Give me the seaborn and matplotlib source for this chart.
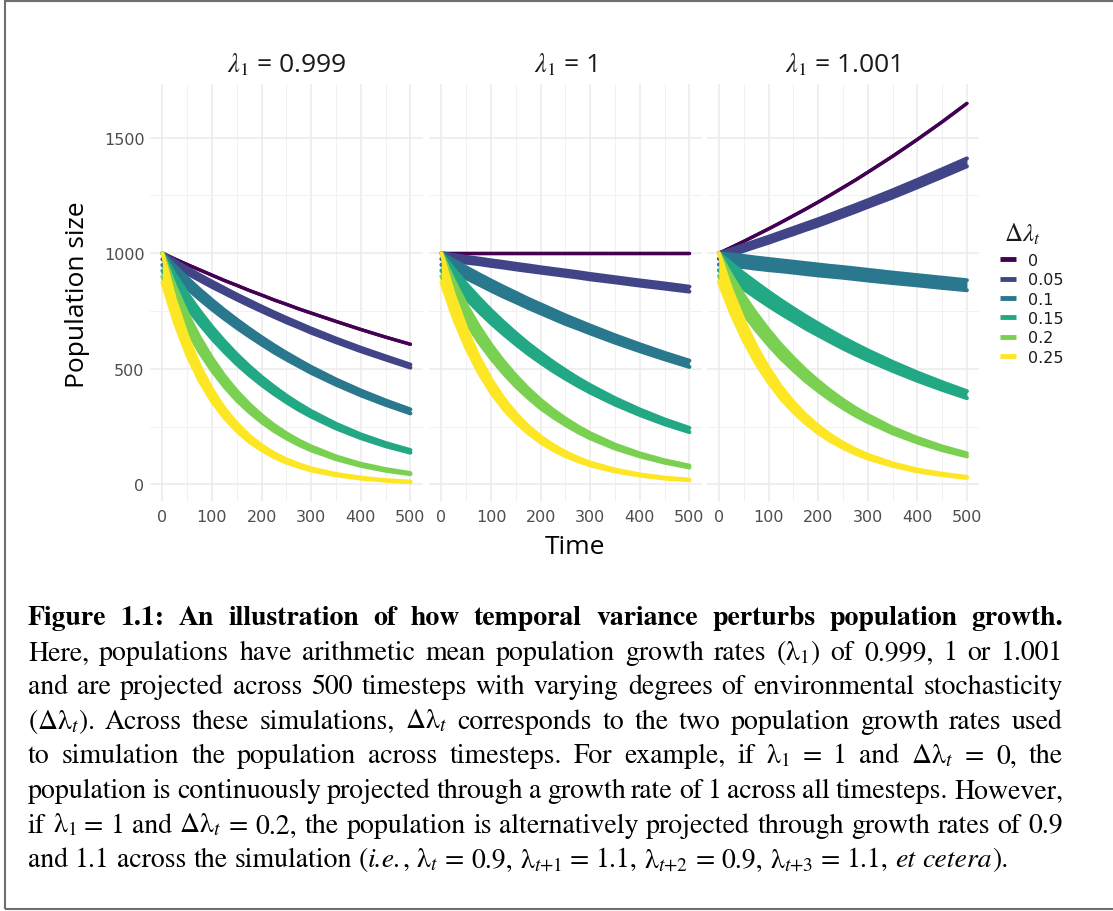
import numpy as np
import pandas as pd
import matplotlib
matplotlib.use("Agg")
import matplotlib.pyplot as plt
import seaborn as sns
from matplotlib.lines import Line2D
from matplotlib.patches import Rectangle

# ---------------- data ----------------
time_pts = [0, 25, 50, 75, 100, 125, 150, 175, 200, 225, 250, 275, 300, 350, 400, 450, 500]
lambda_labels = ["0.999", "1", "1.001"]
delta_levels = ["0", "0.05", "0.1", "0.15", "0.2", "0.25"]
delta_colors = ["#440154", "#414487", "#2A788E", "#22A884", "#7AD151", "#FDE725"]

# upper / lower edge of each alternating-growth band
upper_0999 = [
    [1000, 975, 951, 928, 905, 882, 861, 839, 819, 798, 779, 759, 741, 705, 670, 637, 606],
    [1000, 968, 936, 906, 877, 849, 821, 795, 769, 744, 720, 697, 674, 631, 591, 554, 518],
    [1000, 945, 893, 844, 798, 754, 713, 674, 637, 602, 569, 538, 508, 454, 406, 363, 324],
    [1000, 909, 826, 751, 682, 620, 563, 512, 465, 423, 384, 349, 317, 262, 216, 179, 148],
    [1000, 860, 740, 636, 547, 470, 404, 348, 299, 257, 221, 190, 164, 121, 89, 66, 49],
    [1000, 801, 641, 513, 411, 329, 264, 211, 169, 135, 108, 87, 69, 45, 29, 18, 12],
]
lower_0999 = [
    [1000, 975, 951, 928, 905, 882, 861, 839, 819, 798, 779, 759, 741, 705, 670, 637, 606],
    [974, 943, 912, 883, 854, 827, 800, 774, 749, 725, 701, 679, 656, 615, 576, 540, 505],
    [949, 897, 847, 801, 757, 716, 677, 640, 605, 571, 540, 511, 482, 431, 385, 344, 307],
    [924, 840, 763, 694, 630, 573, 520, 473, 430, 391, 355, 322, 293, 242, 200, 165, 137],
    [899, 773, 665, 572, 492, 423, 363, 313, 269, 231, 199, 171, 147, 109, 80, 59, 44],
    [874, 700, 560, 448, 359, 288, 231, 184, 148, 118, 94, 76, 60, 39, 25, 16, 10],
]
upper_1 = [
    [1000, 1000, 1000, 1000, 1000, 1000, 1000, 1000, 1000, 1000, 1000, 1000, 1000, 1000, 1000, 1000, 1000],
    [1000, 992, 984, 977, 969, 962, 954, 947, 939, 932, 925, 918, 910, 896, 882, 869, 855],
    [1000, 969, 939, 910, 882, 855, 829, 803, 779, 755, 731, 709, 687, 645, 606, 569, 535],
    [1000, 932, 868, 809, 754, 703, 655, 610, 569, 530, 494, 460, 429, 373, 324, 281, 244],
    [1000, 882, 778, 686, 605, 534, 471, 415, 366, 323, 285, 251, 221, 172, 134, 104, 81],
    [1000, 821, 675, 554, 455, 374, 307, 252, 207, 170, 140, 115, 94, 64, 43, 29, 20],
]
lower_1 = [
    [1000, 1000, 1000, 1000, 1000, 1000, 1000, 1000, 1000, 1000, 1000, 1000, 1000, 1000, 1000, 1000, 1000],
    [975, 967, 959, 953, 945, 938, 930, 923, 916, 909, 902, 895, 887, 874, 860, 847, 834],
    [950, 921, 892, 865, 838, 812, 788, 763, 740, 717, 694, 674, 653, 613, 576, 541, 508],
    [925, 862, 803, 748, 697, 650, 606, 564, 526, 490, 457, 426, 397, 345, 300, 260, 226],
    [900, 794, 700, 617, 545, 481, 424, 374, 329, 291, 257, 226, 199, 155, 121, 94, 73],
    [875, 718, 591, 485, 398, 327, 269, 221, 181, 149, 122, 101, 82, 56, 38, 25, 18],
]
upper_1001 = [
    [1000, 1025, 1051, 1078, 1105, 1133, 1162, 1191, 1221, 1252, 1284, 1316, 1350, 1419, 1492, 1568, 1648],
    [1000, 1017, 1035, 1053, 1071, 1090, 1109, 1128, 1147, 1167, 1188, 1208, 1229, 1272, 1317, 1363, 1410],
    [1000, 994, 988, 981, 975, 969, 963, 957, 951, 945, 940, 934, 928, 916, 905, 894, 883],
    [1000, 956, 913, 873, 834, 797, 762, 728, 696, 665, 635, 607, 580, 530, 484, 442, 403],
    [1000, 904, 818, 740, 669, 605, 548, 495, 448, 405, 366, 331, 300, 245, 201, 164, 134],
    [1000, 842, 710, 598, 504, 424, 357, 301, 254, 214, 180, 152, 128, 91, 64, 46, 32],
]
lower_1001 = [
    [1000, 1025, 1051, 1078, 1105, 1133, 1162, 1191, 1221, 1252, 1284, 1316, 1350, 1419, 1492, 1568, 1648],
    [976, 993, 1010, 1028, 1045, 1064, 1082, 1101, 1119, 1139, 1159, 1179, 1200, 1241, 1285, 1330, 1376],
    [951, 945, 940, 933, 927, 922, 916, 910, 904, 899, 894, 888, 882, 871, 861, 850, 840],
    [926, 885, 845, 808, 772, 738, 706, 674, 645, 616, 588, 562, 537, 491, 448, 409, 373],
    [901, 815, 737, 667, 603, 545, 494, 446, 404, 365, 330, 298, 270, 221, 181, 148, 121],
    [876, 738, 622, 524, 442, 371, 313, 264, 222, 187, 158, 133, 112, 80, 56, 40, 28],
]

# '*' toggles italic inside a word
caption_lines = [
    "Figure 1.1:  An illustration of how temporal variance perturbs population growth.",
    "Here, populations have arithmetic mean population growth rates (λ$_\\mathrm{1}$) of 0.999, 1 or 1.001",
    "and are projected across 500 timesteps with varying degrees of environmental stochasticity",
    "(Δλ$_t$).  Across these simulations, Δλ$_t$ corresponds to the two population growth rates used",
    "to simulation the population across timesteps.  For example, if λ$_\\mathrm{1}$ = 1 and Δλ$_t$ = 0, the",
    "population is continuously projected through a growth rate of 1 across all timesteps. However,",
    "if λ$_\\mathrm{1}$ = 1 and Δλ$_t$ = 0.2, the population is alternatively projected through growth rates of 0.9",
    "and 1.1 across the simulation (*i.e.*, λ$_t$ = 0.9, λ$_{t\\mathrm{+1}}$ = 1.1, "
    "λ$_{t\\mathrm{+2}}$ = 0.9, λ$_{t\\mathrm{+3}}$ = 1.1, *et* *cetera*).",
]

# ---------------- long table ----------------
rows = []
for lam, ups, los in zip(lambda_labels, [upper_0999, upper_1, upper_1001],
                         [lower_0999, lower_1, lower_1001]):
    for d, up, lo in zip(delta_levels, ups, los):
        for t, u, l in zip(time_pts, up, lo):
            rows.append((lam, d, t, u, "upper"))
            rows.append((lam, d, t, l, "lower"))
df = pd.DataFrame(rows, columns=["lam", "delta", "time", "pop", "edge"])

# ---------------- figure ----------------
sns.set_style("white")
plt.rcParams["font.family"] = ["DejaVu Sans"]

W, H = 1113, 912
fig = plt.figure(figsize=(W / 100, H / 100), dpi=100)

def fx(px):
    return px / W

def fy(py):
    return (H - py) / H

panel_left = [150, 429, 706.5]
panel_w = 272.8
panel_top, panel_bot = 85, 502
for i, lam in enumerate(lambda_labels):
    ax = fig.add_axes([fx(panel_left[i]), fy(panel_bot), panel_w / W,
                       (panel_bot - panel_top) / H])
    sub = df[df["lam"] == lam]
    for k, (d, c) in enumerate(zip(delta_levels, delta_colors)):
        s = sub[sub["delta"] == d]
        up = s[s["edge"] == "upper"]
        lo = s[s["edge"] == "lower"]
        if k > 0:
            ax.fill_between(up["time"].values, lo["pop"].values, up["pop"].values,
                            color=c, lw=0, zorder=3 + k)
        sns.lineplot(data=s, x="time", y="pop", units="edge", estimator=None,
                     color=c, lw=2.4 if k == 0 else 2.9, ax=ax, legend=False,
                     zorder=3 + k, solid_capstyle="round", solid_joinstyle="round")
    ax.set_xlim(-25, 525)
    ax.set_ylim(-72, 1732)
    ax.set_xticks([0, 100, 200, 300, 400, 500])
    ax.set_xticks([50, 150, 250, 350, 450], minor=True)
    ax.set_yticks([0, 500, 1000, 1500])
    ax.set_yticks([250, 750, 1250], minor=True)
    ax.grid(which="major", color="#ebebeb", lw=1.1, zorder=0)
    ax.grid(which="minor", color="#f1f1f1", lw=0.7, zorder=0)
    ax.set_axisbelow(True)
    for sp in ax.spines.values():
        sp.set_visible(False)
    ax.tick_params(which="both", length=0, labelsize=11.5, labelcolor="#4d4d4d",
                   pad=6)
    ax.tick_params(axis="y", pad=4)
    if i > 0:
        ax.set_yticklabels([])
    ax.set_xlabel("")
    ax.set_ylabel("")
    ax.set_title(r"$\lambda_\mathrm{1}$ = " + lam, fontsize=19, family="Open Sans",
                 math_fontfamily="stix", pad=9, color="#1a1a1a")

fig.text(fx(78), fy(295), "Population size", rotation=90, fontsize=19,
         family="Open Sans", ha="center", va="center", color="black")
fig.text(fx(575), fy(547), "Time", fontsize=19, family="Open Sans",
         ha="center", va="center", color="black")

# legend
fig.text(fx(1004), fy(234), r"$\Delta\lambda_t$", fontsize=18, math_fontfamily="stix",
         ha="left", va="center", color="#1a1a1a")
handles = [Line2D([], [], color=c, lw=3.5, solid_capstyle="butt") for c in delta_colors]
leg = fig.legend(handles, delta_levels, loc="upper left",
                 bbox_to_anchor=(fx(1000), fy(254)), frameon=False,
                 prop={"family": "DejaVu Sans", "size": 11.5},
                 handlelength=1.0, handletextpad=0.75, labelspacing=0.27,
                 borderpad=0, borderaxespad=0)
for t in leg.get_texts():
    t.set_color("#1a1a1a")

# ---------------- caption (justified) ----------------
renderer = fig.canvas.get_renderer()
x0, x1 = 28, 1063
base0, step = 625, 34.6
for li, line in enumerate(caption_lines):
    y = base0 + li * step
    weight = "bold" if li == 0 else "normal"
    words = []
    for w in line.split():
        pieces = []
        for pi, p in enumerate(w.split("*")):
            if p == "":
                continue
            t = fig.text(0, fy(y), p, fontsize=20, family="STIXGeneral", weight=weight,
                         style="italic" if pi % 2 == 1 else "normal",
                         math_fontfamily="stix", va="baseline", ha="left", color="black")
            pieces.append((t, t.get_window_extent(renderer).width))
        words.append(pieces)
    widths = [sum(pw for _, pw in pcs) for pcs in words]
    if li == len(caption_lines) - 1:
        gap = 7.0
    else:
        gap = (x1 - x0 - sum(widths)) / (len(words) - 1)
    x = x0
    for pcs, w in zip(words, widths):
        px = x
        for t, pw in pcs:
            t.set_x(fx(px))
            px += pw
        x += w + gap

fig.add_artist(Rectangle((fx(5), fy(910)), 2, (910 - 2) / H, transform=fig.transFigure,
                         fill=False, ec="#6e6e6e", lw=1.5))

fig.savefig("out.png", dpi=100)
